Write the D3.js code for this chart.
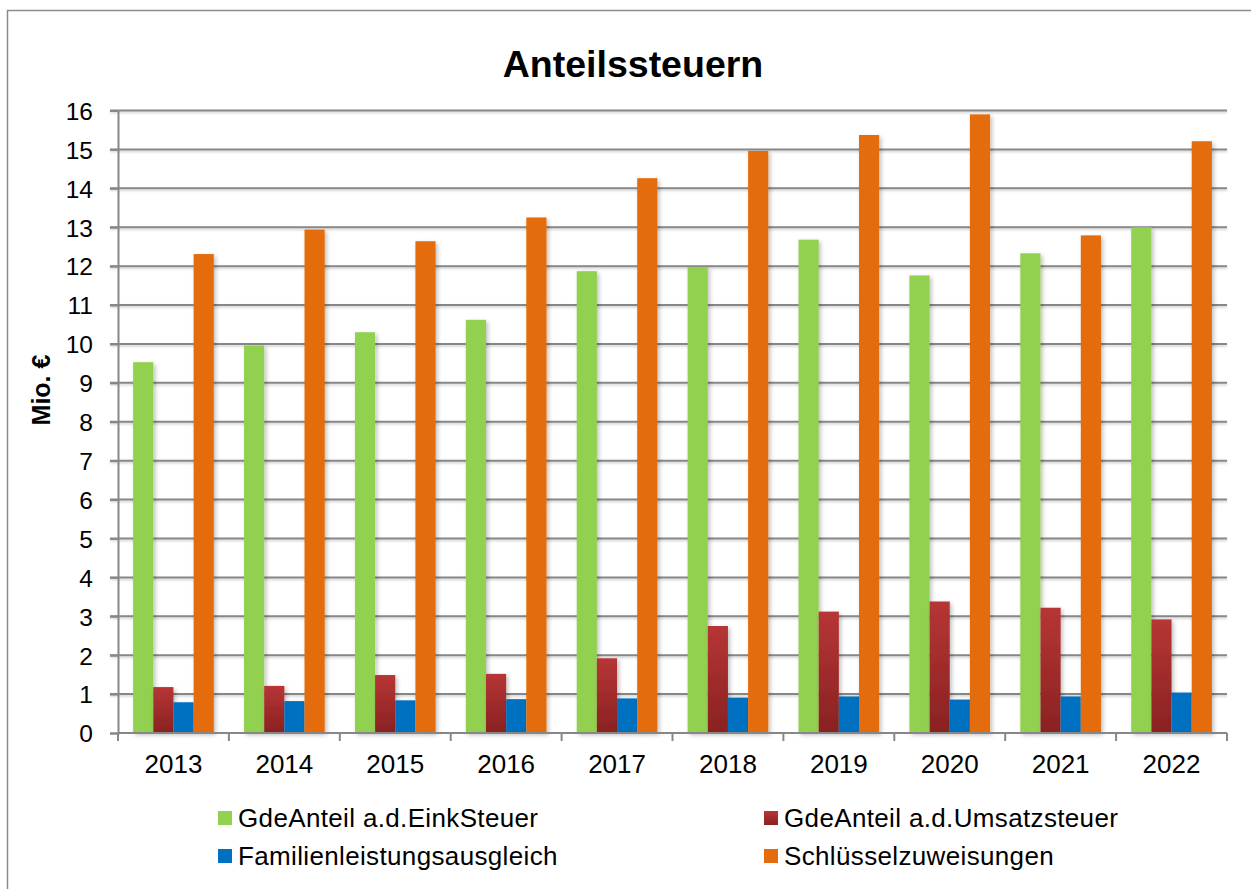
<!DOCTYPE html>
<html>
<head>
<meta charset="utf-8">
<script src="https://cdn.jsdelivr.net/npm/d3@7"></script>
<style>
  html, body { margin: 0; padding: 0; background: #fff; }
  svg { display: block; }
  text { font-family: "Liberation Sans", Arial, sans-serif; fill: #000; }
</style>
</head>
<body>
<svg id="chart" width="1251" height="889"></svg>
<script>
const years = ["2013","2014","2015","2016","2017","2018","2019","2020","2021","2022"];
const seriesNames = ["GdeAnteil a.d.EinkSteuer","GdeAnteil a.d.Umsatzsteuer","Familienleistungsausgleich","Schlüsselzuweisungen"];
const einkSteuer   = [9.53, 9.96, 10.30, 10.62, 11.87, 11.98, 12.68, 11.76, 12.33, 13.00];
const umsatzSteuer = [1.18, 1.21, 1.49, 1.52, 1.92, 2.75, 3.12, 3.38, 3.22, 2.92];
const familienAusgl= [0.79, 0.82, 0.84, 0.87, 0.89, 0.91, 0.94, 0.86, 0.94, 1.04];
const schluessel   = [12.31, 12.94, 12.64, 13.25, 14.26, 14.96, 15.37, 15.90, 12.79, 15.21];
const yTicks = [0,1,2,3,4,5,6,7,8,9,10,11,12,13,14,15,16];
const chartTitle = "Anteilssteuern";
const yTitle = "Mio. €";

(function () {
const seriesValues = [einkSteuer, umsatzSteuer, familienAusgl, schluessel];
const fills = ["#92d050", "url(#redGrad)", "#0070c0", "#e46c0a"];

const svg = d3.select("#chart");
const defs = svg.append("defs");
const g1 = defs.append("linearGradient").attr("id","redGrad").attr("x1",0).attr("y1",0).attr("x2",0).attr("y2",1);
g1.append("stop").attr("offset","0%").attr("stop-color","#b73535");
g1.append("stop").attr("offset","100%").attr("stop-color","#892222");
const f = defs.append("filter").attr("id","shadow").attr("x","-20%").attr("y","-20%").attr("width","150%").attr("height","150%");
f.append("feDropShadow").attr("dx",2).attr("dy",2).attr("stdDeviation",2).attr("flood-color","#000").attr("flood-opacity",0.25);
const fl = defs.append("filter").attr("id","lshadow").attr("filterUnits","userSpaceOnUse")
  .attr("x",0).attr("y",0).attr("width",1251).attr("height",889);
fl.append("feDropShadow").attr("dx",0).attr("dy",1.5).attr("stdDeviation",1).attr("flood-color","#000").attr("flood-opacity",0.2);

// outer frame
svg.append("rect").attr("x",7.5).attr("y",10.5).attr("width",1270).attr("height",900)
  .attr("fill","none").attr("stroke","#8c8c8c").attr("stroke-width",1.5);

const pLeft = 118, pRight = 1227, pTop = 110.5, pBottom = 733;
const x0 = d3.scaleBand().domain(years).range([pLeft, pRight]).paddingInner(0.2727).paddingOuter(0.1364);
const x1 = d3.scaleBand().domain(d3.range(4)).range([0, x0.bandwidth()]).padding(0);
const y = d3.scaleLinear().domain([0,16]).range([pBottom, pTop]);

// title
svg.append("text").attr("x",633).attr("y",77).attr("text-anchor","middle")
  .attr("font-size",37.5).attr("font-weight","bold").text(chartTitle);

// gridlines
const grid = svg.append("g").attr("filter","url(#lshadow)");
grid.selectAll("line").data(yTicks.filter(d=>d>0)).join("line")
  .attr("x1",pLeft-8).attr("x2",pRight).attr("y1",d=>y(d)).attr("y2",d=>y(d))
  .attr("stroke","#878787").attr("stroke-width",2);

// y axis
const yAxis = svg.append("g").attr("transform",`translate(${pLeft},0)`)
  .call(d3.axisLeft(y).tickValues(yTicks).tickSize(8).tickPadding(17).tickFormat(d3.format("d")));
yAxis.select(".domain").attr("stroke","#878787").attr("stroke-width",2);
yAxis.selectAll(".tick line").attr("stroke","#878787").attr("stroke-width",2);
yAxis.selectAll(".tick text").attr("font-size",24.5).attr("font-family","Liberation Sans, Arial, sans-serif").attr("fill","#000").attr("dy","0.36em");

// bars
const groups = svg.append("g").selectAll("g").data(years).join("g")
  .attr("transform", d => `translate(${x0(d)},0)`);
groups.selectAll("rect").data((d,i) => seriesValues.map((s,k) => ({k, v: s[i]}))).join("rect")
  .attr("x", d => x1(d.k)).attr("width", x1.bandwidth())
  .attr("y", d => y(d.v)).attr("height", d => y(0) - y(d.v))
  .attr("fill", d => fills[d.k]).attr("filter","url(#shadow)");

// x axis
const xAxis = svg.append("g").attr("transform",`translate(0,${pBottom})`)
  .call(d3.axisBottom(x0).tickSize(0).tickPadding(22));
xAxis.select(".domain").remove();
xAxis.selectAll(".tick text").attr("font-size",26).attr("font-family","Liberation Sans, Arial, sans-serif").attr("fill","#000");
const boundaries = d3.range(years.length + 1).map(i => pLeft + i * x0.step());
svg.append("line").attr("x1",pLeft).attr("x2",pRight).attr("y1",pBottom).attr("y2",pBottom)
  .attr("stroke","#878787").attr("stroke-width",2);
svg.append("g").selectAll("line").data(boundaries).join("line")
  .attr("x1",d=>d).attr("x2",d=>d).attr("y1",pBottom).attr("y2",pBottom+8)
  .attr("stroke","#878787").attr("stroke-width",2);

// y title
svg.append("text").attr("transform","translate(50,390) rotate(-90)").attr("text-anchor","middle")
  .attr("font-size",25).attr("font-weight","bold").text(yTitle);

// legend
const legPos = [[218,811],[764,811],[218,849],[764,849]];
const leg = svg.append("g").selectAll("g").data(seriesNames).join("g")
  .attr("transform",(d,i)=>`translate(${legPos[i][0]},${legPos[i][1]})`);
leg.append("rect").attr("width",14).attr("height",14).attr("fill",(d,i)=>fills[i]);
leg.append("text").attr("x",20).attr("y",16).attr("font-size",26).attr("letter-spacing",0.35).text(d=>d);
})();
</script>
</body>
</html>
